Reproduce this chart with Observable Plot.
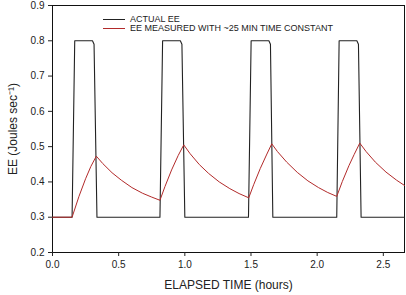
<!DOCTYPE html>
<html>
<head>
<meta charset="utf-8">
<script src="https://cdn.jsdelivr.net/npm/d3@7"></script>
<script src="https://cdn.jsdelivr.net/npm/@observablehq/plot@0.6"></script>
<style>
  html, body { margin: 0; padding: 0; background: #fff; }
  #wrap { position: relative; width: 406px; height: 295px; font-family: "Liberation Sans", Arial, sans-serif; }
  #legend { position: absolute; left: 103px; top: 15px; font-size: 9px; color: #222; line-height: 9px; }
  #legend .row { display: flex; align-items: center; height: 9px; }
  #legend .sw { width: 22px; height: 0; margin-right: 5px; }
</style>
</head>
<body>
<div id="wrap"><div id="legend"></div></div>
<script>
// Series
const actualHours = [0, 0.148, 0.168, 0.302, 0.314, 0.336,
  0.812, 0.832, 0.966, 0.978, 1.000,
  1.481, 1.501, 1.635, 1.647, 1.665,
  2.148, 2.166, 2.300, 2.312, 2.332, 2.66];
const actualEE = [0.3, 0.3, 0.8, 0.8, 0.79, 0.3,
  0.3, 0.8, 0.8, 0.79, 0.3,
  0.3, 0.8, 0.8, 0.79, 0.3,
  0.3, 0.8, 0.8, 0.79, 0.3, 0.3];

const measuredHours = [0, 0.148, 0.20, 0.25, 0.29, 0.331,
  0.38, 0.45, 0.52, 0.60, 0.68, 0.75, 0.812,
  0.85, 0.90, 0.95, 0.992,
  1.04, 1.11, 1.18, 1.26, 1.34, 1.41, 1.483,
  1.52, 1.57, 1.62, 1.657,
  1.70, 1.77, 1.85, 1.93, 2.01, 2.08, 2.148,
  2.19, 2.24, 2.28, 2.322,
  2.37, 2.44, 2.52, 2.60, 2.66];
const measuredEE = [0.3, 0.3, 0.359, 0.409, 0.444, 0.473,
  0.452, 0.426, 0.405, 0.384, 0.368, 0.357, 0.348,
  0.387, 0.434, 0.475, 0.505,
  0.480, 0.449, 0.424, 0.400, 0.381, 0.367, 0.355,
  0.392, 0.438, 0.479, 0.508,
  0.486, 0.456, 0.427, 0.403, 0.384, 0.370, 0.359,
  0.401, 0.446, 0.478, 0.510,
  0.486, 0.456, 0.428, 0.405, 0.390];

const seriesNames = ["ACTUAL EE", "EE MEASURED WITH ~25 MIN TIME CONSTANT"];
const seriesColors = ["#222222", "#b22a2a"];
const xTicks = [0, 0.5, 1.0, 1.5, 2.0, 2.5];
const yTicks = [0.2, 0.3, 0.4, 0.5, 0.6, 0.7, 0.8, 0.9];

const actual = actualHours.map((h, i) => ({h, v: actualEE[i]}));
const measured = measuredHours.map((h, i) => ({h, v: measuredEE[i]}));

const chart = Plot.plot({
  width: 406,
  height: 295,
  marginLeft: 52,
  marginRight: 2,
  marginTop: 5,
  marginBottom: 43,
  style: {fontFamily: '"Liberation Sans", Arial, sans-serif', fontSize: "10px", color: "#222", background: "#fff"},
  x: {domain: [0, 2.66]},
  y: {domain: [0.2, 0.9]},
  marks: [
    Plot.frame({stroke: "#111", strokeWidth: 1}),
    Plot.axisX({ticks: xTicks, tickFormat: d3.format(".1f"), tickSize: 4, tickPadding: 4,
      label: "ELAPSED TIME (hours)", labelAnchor: "center", labelArrow: "none", labelOffset: 36,
      fontSize: 10}),
    Plot.axisY({ticks: yTicks, tickFormat: d3.format(".1f"), tickSize: 4, tickPadding: 4,
      label: "EE (Joules sec⁻¹)", labelAnchor: "center", labelArrow: "none", labelOffset: 44,
      fontSize: 10}),
    Plot.line(actual, {x: "h", y: "v", stroke: seriesColors[0], strokeWidth: 1.1}),
    Plot.line(measured, {x: "h", y: "v", stroke: seriesColors[1], strokeWidth: 1})
  ]
});
document.getElementById("wrap").prepend(chart);
// axis titles at 12px
chart.querySelectorAll("g[aria-label='x-axis label'] text, g[aria-label='y-axis label'] text")
  .forEach(t => t.style.fontSize = "12px");

const legend = document.getElementById("legend");
seriesNames.forEach((name, i) => {
  const row = document.createElement("div");
  row.className = "row";
  const sw = document.createElement("span");
  sw.className = "sw";
  sw.style.borderTop = `1px solid ${seriesColors[i]}`;
  row.appendChild(sw);
  const tx = document.createElement("span");
  tx.textContent = name;
  row.appendChild(tx);
  legend.appendChild(row);
});
</script>
</body>
</html>
